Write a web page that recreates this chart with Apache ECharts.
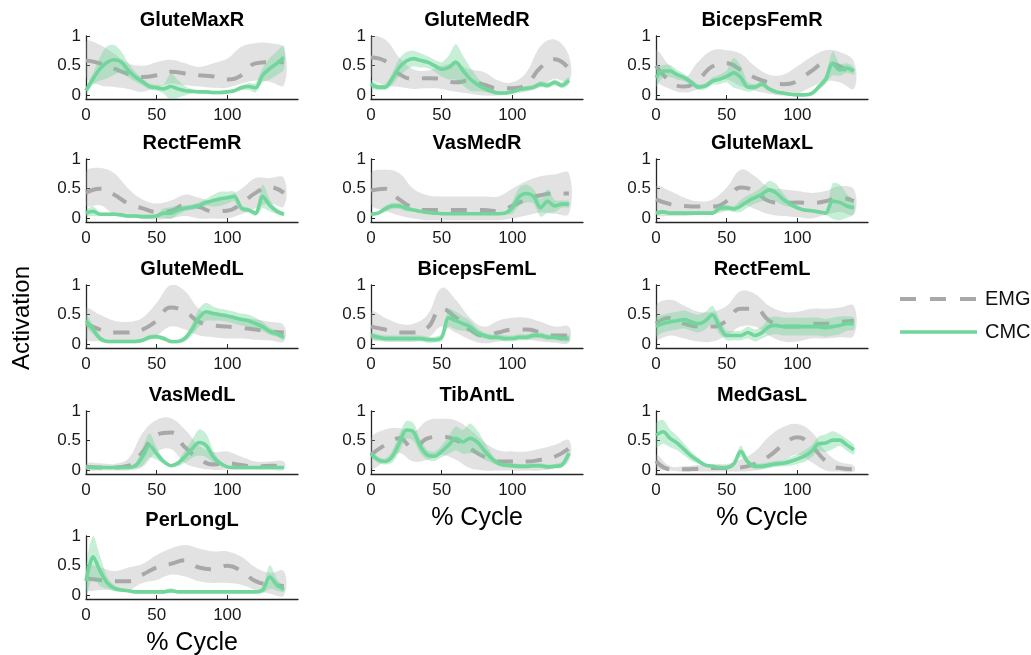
<!DOCTYPE html>
<html>
<head>
<meta charset="utf-8">
<script src="https://cdn.jsdelivr.net/npm/echarts@6/dist/echarts.min.js"></script>
<style>html,body{margin:0;padding:0;background:#fff}#c{width:1031px;height:655px}</style>
</head>
<body>
<div id="c"></div>
<script>
// x positions (% cycle)
const emgX = [0,10,20,30,40,50,60,70,80,90,100,110,120,130,140];
const cmcX = [0,5,10,15,20,25,30,35,40,45,50,55,60,65,70,75,80,85,90,95,100,105,110,115,120,125,130,135,140];
const xTicks = [0,50,100];
const yTicks = [0,0.5,1];
const panelNames = ['GluteMaxR','GluteMedR','BicepsFemR','RectFemR','VasMedR','GluteMaxL','GluteMedL','BicepsFemL','RectFemL','VasMedL','TibAntL','MedGasL','PerLongL'];

// EMG mean / band upper / band lower, CMC mean / CMC band half-width
const gluteMaxR_emg   = [0.59,0.54,0.45,0.36,0.31,0.34,0.40,0.37,0.34,0.32,0.27,0.34,0.54,0.56,0.56];
const gluteMaxR_emgHi = [0.90,0.85,0.70,0.54,0.50,0.56,0.60,0.54,0.48,0.54,0.62,0.82,0.88,0.88,0.80];
const gluteMaxR_emgLo = [0.31,0.17,0.14,0.11,0.06,0.14,0.20,0.17,0.15,0.13,0.13,0.20,0.25,0.23,0.17];
const gluteMaxR_cmc   = [0.08,0.28,0.45,0.56,0.60,0.56,0.42,0.31,0.23,0.15,0.13,0.11,0.15,0.11,0.08,0.07,0.06,0.06,0.05,0.05,0.06,0.08,0.13,0.15,0.13,0.34,0.45,0.54,0.64];
const gluteMaxR_cmcSd = [0.05,0.10,0.20,0.27,0.25,0.18,0.12,0.08,0.06,0.05,0.05,0.08,0.22,0.15,0.08,0.04,0.03,0.03,0.03,0.03,0.03,0.03,0.04,0.06,0.08,0.12,0.18,0.20,0.20];

const gluteMedR_emg   = [0.64,0.58,0.36,0.28,0.29,0.28,0.22,0.25,0.18,0.12,0.12,0.19,0.47,0.61,0.45];
const gluteMedR_emgHi = [0.97,0.94,0.64,0.44,0.42,0.50,0.53,0.44,0.39,0.25,0.22,0.39,0.83,0.94,0.67];
const gluteMedR_emgLo = [0.31,0.17,0.14,0.11,0.12,0.11,0.06,0.03,0.00,0.00,0.03,0.06,0.14,0.28,0.22];
const gluteMedR_cmc   = [0.19,0.14,0.14,0.28,0.47,0.58,0.62,0.59,0.56,0.50,0.44,0.47,0.56,0.42,0.28,0.19,0.12,0.07,0.04,0.04,0.06,0.10,0.12,0.14,0.19,0.17,0.22,0.17,0.25];
const gluteMedR_cmcSd = [0.07,0.05,0.05,0.10,0.15,0.15,0.13,0.12,0.10,0.10,0.12,0.20,0.30,0.25,0.20,0.12,0.06,0.03,0.03,0.03,0.03,0.03,0.04,0.04,0.05,0.05,0.05,0.05,0.06];

const bicepsFemR_emg   = [0.50,0.24,0.15,0.27,0.49,0.54,0.43,0.30,0.22,0.19,0.24,0.41,0.54,0.49,0.30];
const bicepsFemR_emgHi = [0.76,0.49,0.30,0.57,0.76,0.76,0.70,0.49,0.35,0.35,0.49,0.65,0.76,0.73,0.57];
const bicepsFemR_emgLo = [0.27,0.11,0.05,0.11,0.22,0.27,0.16,0.08,0.03,0.00,0.03,0.14,0.24,0.22,0.11];
const bicepsFemR_cmc   = [0.30,0.41,0.41,0.35,0.30,0.22,0.14,0.16,0.24,0.27,0.32,0.38,0.30,0.14,0.14,0.19,0.11,0.06,0.04,0.02,0.01,0.01,0.03,0.14,0.27,0.54,0.43,0.46,0.41];
const bicepsFemR_cmcSd = [0.15,0.10,0.10,0.08,0.06,0.05,0.05,0.05,0.06,0.08,0.10,0.25,0.20,0.08,0.05,0.05,0.04,0.03,0.02,0.02,0.02,0.02,0.03,0.05,0.08,0.20,0.10,0.08,0.06];

const rectFemR_emg   = [0.43,0.50,0.40,0.25,0.17,0.11,0.13,0.22,0.19,0.12,0.13,0.25,0.43,0.53,0.43];
const rectFemR_emgHi = [0.78,0.85,0.76,0.50,0.32,0.25,0.30,0.40,0.35,0.30,0.37,0.50,0.68,0.68,0.68];
const rectFemR_emgLo = [0.22,0.22,0.07,0.03,0.00,-0.02,0.00,0.04,0.00,0.00,0.00,0.07,0.17,0.25,0.20];
const rectFemR_cmc   = [0.09,0.12,0.07,0.07,0.07,0.06,0.04,0.04,0.03,0.03,0.04,0.09,0.09,0.14,0.17,0.19,0.22,0.27,0.30,0.33,0.35,0.37,0.17,0.14,0.09,0.37,0.22,0.12,0.07];
const rectFemR_cmcSd = [0.05,0.08,0.03,0.03,0.03,0.03,0.03,0.03,0.03,0.03,0.03,0.08,0.10,0.08,0.05,0.05,0.05,0.06,0.10,0.12,0.10,0.08,0.05,0.04,0.05,0.20,0.10,0.05,0.03];

const vasMedR_emg   = [0.47,0.50,0.32,0.18,0.14,0.14,0.14,0.14,0.14,0.12,0.21,0.32,0.39,0.42,0.42];
const vasMedR_emgHi = [0.76,0.82,0.76,0.50,0.39,0.37,0.37,0.37,0.37,0.37,0.50,0.63,0.71,0.74,0.76];
const vasMedR_emgLo = [0.24,0.13,0.05,0.00,-0.03,-0.03,-0.03,-0.03,-0.03,-0.03,0.00,0.05,0.10,0.08,0.08];
const vasMedR_cmc   = [0.07,0.09,0.16,0.21,0.21,0.17,0.14,0.12,0.10,0.09,0.08,0.08,0.08,0.08,0.08,0.08,0.08,0.08,0.08,0.09,0.18,0.37,0.42,0.37,0.18,0.29,0.21,0.24,0.24];
const vasMedR_cmcSd = [0.02,0.02,0.05,0.05,0.05,0.05,0.02,0.02,0.02,0.02,0.02,0.02,0.02,0.02,0.02,0.02,0.02,0.02,0.02,0.02,0.10,0.15,0.15,0.12,0.15,0.20,0.10,0.06,0.05];

const gluteMaxL_emg   = [0.32,0.24,0.21,0.20,0.20,0.29,0.52,0.46,0.29,0.26,0.27,0.26,0.29,0.35,0.29];
const gluteMaxL_emgHi = [0.54,0.46,0.35,0.29,0.32,0.52,0.82,0.71,0.52,0.49,0.46,0.43,0.46,0.54,0.49];
const gluteMaxL_emgLo = [0.07,0.04,0.04,0.06,0.07,0.13,0.24,0.16,0.07,0.04,0.02,0.00,0.06,0.11,0.07];
const gluteMaxL_cmc   = [0.09,0.11,0.09,0.09,0.09,0.09,0.09,0.09,0.09,0.17,0.18,0.16,0.21,0.29,0.35,0.41,0.48,0.43,0.32,0.24,0.18,0.14,0.13,0.11,0.09,0.29,0.27,0.21,0.18];
const gluteMaxL_cmcSd = [0.03,0.03,0.03,0.03,0.03,0.03,0.03,0.03,0.03,0.05,0.05,0.05,0.10,0.10,0.10,0.12,0.15,0.15,0.10,0.05,0.03,0.03,0.03,0.03,0.03,0.30,0.30,0.20,0.10];

const gluteMedL_emg   = [0.35,0.25,0.20,0.20,0.25,0.40,0.62,0.55,0.38,0.32,0.30,0.28,0.25,0.22,0.20];
const gluteMedL_emgHi = [0.60,0.50,0.40,0.38,0.45,0.70,1.00,0.90,0.60,0.50,0.48,0.45,0.42,0.38,0.32];
const gluteMedL_emgLo = [0.10,0.05,0.03,0.03,0.05,0.15,0.30,0.25,0.15,0.12,0.10,0.10,0.08,0.07,0.05];
const gluteMedL_cmc   = [0.40,0.25,0.10,0.05,0.05,0.05,0.05,0.05,0.07,0.12,0.13,0.10,0.05,0.05,0.10,0.25,0.45,0.55,0.52,0.50,0.48,0.45,0.42,0.40,0.35,0.30,0.22,0.18,0.12];
const gluteMedL_cmcSd = [0.10,0.08,0.05,0.03,0.03,0.03,0.03,0.03,0.03,0.04,0.04,0.04,0.03,0.03,0.05,0.10,0.15,0.15,0.12,0.10,0.10,0.10,0.10,0.10,0.10,0.08,0.06,0.05,0.04];

const bicepsFemL_emg   = [0.30,0.25,0.20,0.20,0.28,0.60,0.45,0.25,0.15,0.20,0.25,0.25,0.20,0.15,0.15];
const bicepsFemL_emgHi = [0.55,0.45,0.35,0.35,0.50,0.95,0.75,0.45,0.30,0.40,0.45,0.45,0.38,0.30,0.30];
const bicepsFemL_emgLo = [0.10,0.05,0.05,0.05,0.10,0.30,0.20,0.08,0.02,0.05,0.08,0.08,0.05,0.03,0.03];
const bicepsFemL_cmc   = [0.15,0.12,0.10,0.10,0.10,0.10,0.10,0.10,0.08,0.08,0.12,0.45,0.40,0.35,0.30,0.20,0.15,0.12,0.12,0.10,0.10,0.12,0.12,0.15,0.15,0.12,0.12,0.10,0.10];
const bicepsFemL_cmcSd = [0.05,0.05,0.05,0.05,0.05,0.05,0.05,0.05,0.05,0.05,0.06,0.15,0.15,0.12,0.10,0.08,0.05,0.05,0.05,0.05,0.05,0.05,0.05,0.05,0.05,0.05,0.05,0.05,0.05];

const rectFemL_emg   = [0.35,0.45,0.35,0.30,0.30,0.40,0.60,0.60,0.40,0.30,0.30,0.35,0.35,0.38,0.40];
const rectFemL_emgHi = [0.65,0.75,0.65,0.55,0.55,0.65,0.90,0.85,0.65,0.55,0.55,0.60,0.60,0.62,0.65];
const rectFemL_emgLo = [0.10,0.15,0.10,0.05,0.05,0.15,0.30,0.30,0.15,0.05,0.05,0.10,0.10,0.12,0.15];
const rectFemL_cmc   = [0.30,0.35,0.38,0.40,0.42,0.38,0.35,0.40,0.50,0.30,0.15,0.15,0.15,0.20,0.15,0.20,0.30,0.32,0.30,0.30,0.30,0.30,0.30,0.30,0.28,0.30,0.32,0.35,0.35];
const rectFemL_cmcSd = [0.15,0.15,0.15,0.15,0.15,0.15,0.15,0.15,0.15,0.12,0.08,0.08,0.08,0.10,0.10,0.10,0.15,0.15,0.15,0.15,0.15,0.15,0.15,0.15,0.15,0.15,0.15,0.12,0.10];

const vasMedL_emg   = [0.06,0.05,0.05,0.08,0.31,0.60,0.64,0.39,0.20,0.10,0.12,0.09,0.06,0.08,0.08];
const vasMedL_emgHi = [0.12,0.12,0.11,0.20,0.63,0.85,0.88,0.69,0.42,0.31,0.32,0.23,0.15,0.15,0.15];
const vasMedL_emgLo = [0.01,0.00,0.00,0.00,0.06,0.31,0.36,0.12,0.04,0.01,0.01,0.01,0.01,0.01,0.01];
const vasMedL_cmc   = [0.05,0.05,0.05,0.05,0.05,0.05,0.05,0.08,0.23,0.42,0.28,0.15,0.08,0.12,0.23,0.36,0.47,0.42,0.23,0.12,0.06,0.05,0.05,0.05,0.05,0.05,0.05,0.05,0.05];
const vasMedL_cmcSd = [0.02,0.02,0.02,0.02,0.02,0.02,0.02,0.05,0.15,0.20,0.10,0.04,0.02,0.05,0.10,0.15,0.22,0.20,0.10,0.04,0.02,0.02,0.02,0.02,0.02,0.02,0.02,0.02,0.02];

const tibAntL_emg   = [0.26,0.43,0.54,0.37,0.54,0.57,0.51,0.37,0.23,0.15,0.15,0.15,0.18,0.23,0.37];
const tibAntL_emgHi = [0.54,0.69,0.71,0.65,0.84,0.87,0.84,0.69,0.48,0.34,0.32,0.32,0.37,0.43,0.51];
const tibAntL_emgLo = [0.04,0.15,0.29,0.15,0.18,0.26,0.18,0.04,0.00,0.00,0.00,0.00,0.00,0.04,0.15];
const tibAntL_cmc   = [0.28,0.18,0.15,0.23,0.46,0.68,0.65,0.40,0.26,0.24,0.32,0.43,0.54,0.48,0.54,0.48,0.34,0.21,0.12,0.09,0.08,0.07,0.07,0.08,0.08,0.06,0.07,0.09,0.29];
const tibAntL_cmcSd = [0.05,0.05,0.05,0.10,0.15,0.15,0.15,0.12,0.08,0.08,0.10,0.15,0.20,0.20,0.25,0.20,0.15,0.08,0.04,0.04,0.04,0.04,0.04,0.04,0.04,0.04,0.04,0.05,0.06];

const medGasL_emg   = [0.16,0.02,0.02,0.03,0.04,0.04,0.05,0.11,0.24,0.43,0.56,0.41,0.16,0.04,0.02];
const medGasL_emgHi = [0.27,0.07,0.07,0.09,0.11,0.11,0.19,0.32,0.57,0.73,0.78,0.65,0.32,0.14,0.08];
const medGasL_emgLo = [0.05,0.00,-0.02,-0.02,-0.02,-0.02,-0.02,0.00,0.05,0.16,0.27,0.14,0.00,-0.02,-0.02];
const medGasL_cmc   = [0.59,0.65,0.54,0.46,0.35,0.24,0.16,0.09,0.07,0.05,0.05,0.11,0.32,0.14,0.07,0.07,0.09,0.11,0.12,0.15,0.19,0.24,0.32,0.45,0.46,0.51,0.51,0.43,0.35];
const medGasL_cmcSd = [0.20,0.20,0.15,0.12,0.10,0.08,0.05,0.03,0.03,0.03,0.03,0.05,0.10,0.05,0.05,0.05,0.05,0.05,0.05,0.07,0.08,0.10,0.10,0.12,0.15,0.15,0.10,0.10,0.08];

const perLongL_emg   = [0.29,0.26,0.24,0.24,0.35,0.47,0.53,0.59,0.47,0.44,0.50,0.41,0.24,0.18,0.16];
const perLongL_emgHi = [0.50,0.47,0.41,0.47,0.53,0.68,0.79,0.85,0.79,0.74,0.74,0.65,0.47,0.38,0.41];
const perLongL_emgLo = [0.10,0.09,0.10,0.09,0.21,0.26,0.35,0.32,0.24,0.21,0.21,0.18,0.09,0.03,0.00];
const perLongL_cmc   = [0.24,0.65,0.41,0.21,0.12,0.09,0.08,0.06,0.06,0.06,0.06,0.06,0.08,0.06,0.06,0.06,0.06,0.06,0.06,0.06,0.06,0.06,0.06,0.06,0.06,0.09,0.31,0.18,0.10];
const perLongL_cmcSd = [0.25,0.35,0.25,0.10,0.05,0.03,0.03,0.03,0.03,0.03,0.03,0.03,0.04,0.02,0.02,0.02,0.02,0.02,0.02,0.02,0.02,0.02,0.02,0.02,0.02,0.05,0.20,0.10,0.04];

const panels = [
  [gluteMaxR_emg, gluteMaxR_emgHi, gluteMaxR_emgLo, gluteMaxR_cmc, gluteMaxR_cmcSd],
  [gluteMedR_emg, gluteMedR_emgHi, gluteMedR_emgLo, gluteMedR_cmc, gluteMedR_cmcSd],
  [bicepsFemR_emg, bicepsFemR_emgHi, bicepsFemR_emgLo, bicepsFemR_cmc, bicepsFemR_cmcSd],
  [rectFemR_emg, rectFemR_emgHi, rectFemR_emgLo, rectFemR_cmc, rectFemR_cmcSd],
  [vasMedR_emg, vasMedR_emgHi, vasMedR_emgLo, vasMedR_cmc, vasMedR_cmcSd],
  [gluteMaxL_emg, gluteMaxL_emgHi, gluteMaxL_emgLo, gluteMaxL_cmc, gluteMaxL_cmcSd],
  [gluteMedL_emg, gluteMedL_emgHi, gluteMedL_emgLo, gluteMedL_cmc, gluteMedL_cmcSd],
  [bicepsFemL_emg, bicepsFemL_emgHi, bicepsFemL_emgLo, bicepsFemL_cmc, bicepsFemL_cmcSd],
  [rectFemL_emg, rectFemL_emgHi, rectFemL_emgLo, rectFemL_cmc, rectFemL_cmcSd],
  [vasMedL_emg, vasMedL_emgHi, vasMedL_emgLo, vasMedL_cmc, vasMedL_cmcSd],
  [tibAntL_emg, tibAntL_emgHi, tibAntL_emgLo, tibAntL_cmc, tibAntL_cmcSd],
  [medGasL_emg, medGasL_emgHi, medGasL_emgLo, medGasL_cmc, medGasL_cmcSd],
  [perLongL_emg, perLongL_emgHi, perLongL_emgLo, perLongL_cmc, perLongL_cmcSd]
];

const colLeft = [86, 371, 656];
const rowTop = [36, 159, 285, 411, 536];
const GW = 212, GH = 63;
const FONT = '"Liberation Sans", Arial, Helvetica, sans-serif';
const AX = '#262626';
const EMG_COLOR = '#a8a8a8';
const CMC_COLOR = '#70d69b';
const EMG_BAND = 'rgba(165,165,165,0.32)';
const CMC_BAND = 'rgba(108,212,150,0.38)';
const EMG_DASH = [16, 13];

const pairs = (xs, ys) => xs.map((x, i) => [x, ys[i]]);

// shaded band drawn as one polygon through the axis scales
function bandSeries(i, xs, lo, hi, color, z, smooth) {
  return {
    type: 'custom', xAxisIndex: i, yAxisIndex: i, silent: true, z: z, clip: true, animation: false,
    data: xs.map((x, j) => [x, lo[j], hi[j]]),
    encode: {x: 0, y: [1, 2]},
    renderItem: function (params, api) {
      if (params.dataIndex !== 0) return null;
      const upper = xs.map((x, j) => api.coord([x, hi[j]]));
      const lower = xs.map((x, j) => api.coord([x, lo[j]])).reverse();
      const cs = params.coordSys;
      return {
        type: 'group',
        clipPath: {type: 'rect', shape: {x: cs.x, y: cs.y, width: cs.width, height: cs.height}},
        children: [{type: 'polygon', shape: {points: upper.concat(lower), smooth: smooth}, style: {fill: color, stroke: null}}]
      };
    }
  };
}

const grids = [], xAxes = [], yAxes = [], series = [], graphics = [];
panels.forEach((p, i) => {
  const [emg, hi, lo, cmc, sd] = p;
  const row = Math.floor(i / 3), col = i % 3;
  const left = colLeft[col], top = rowTop[row];
  grids.push({left: left, top: top, width: GW, height: GH, containLabel: false});
  xAxes.push({
    type: 'value', gridIndex: i, min: 0, max: 150,
    axisLine: {show: true, onZero: false, lineStyle: {color: AX, width: 1.3}},
    axisTick: {show: true, inside: true, length: 4, customValues: xTicks, lineStyle: {color: AX}},
    axisLabel: {customValues: xTicks, fontSize: 17, color: '#1a1a1a', fontFamily: FONT, margin: 8},
    splitLine: {show: false}
  });
  yAxes.push({
    type: 'value', gridIndex: i, min: -0.06, max: 1,
    axisLine: {show: true, onZero: false, lineStyle: {color: AX, width: 1.3}},
    axisTick: {show: true, inside: true, length: 4, customValues: yTicks, lineStyle: {color: AX}},
    axisLabel: {customValues: yTicks, fontSize: 17, color: '#1a1a1a', fontFamily: FONT, margin: 5},
    splitLine: {show: false}
  });
  const common = {xAxisIndex: i, yAxisIndex: i, symbol: 'none', silent: true, animation: false, emphasis: {disabled: true}, clip: true};
  series.push(bandSeries(i, emgX, lo, hi, EMG_BAND, 1, 0.4));
  series.push(Object.assign({type: 'line', name: 'EMG', smooth: 0.5, z: 3,
    data: pairs(emgX, emg), lineStyle: {color: EMG_COLOR, width: 4, type: EMG_DASH}, itemStyle: {color: EMG_COLOR}}, common));
  series.push(bandSeries(i, cmcX, cmc.map((v, j) => v - sd[j]), cmc.map((v, j) => v + sd[j]), CMC_BAND, 4, 0.3));
  series.push(Object.assign({type: 'line', name: 'CMC', smooth: 0.3, z: 5,
    data: pairs(cmcX, cmc), lineStyle: {color: CMC_COLOR, width: 3.6}, itemStyle: {color: CMC_COLOR}}, common));

  graphics.push({type: 'text', x: left + GW / 2, y: top - 16,
    style: {text: panelNames[i], font: 'bold 20px ' + FONT, fill: '#000', align: 'center', verticalAlign: 'middle'}});
});

// "% Cycle" under the bottom panel of each column
[[0, 4], [1, 3], [2, 3]].forEach(([c, r]) => {
  graphics.push({type: 'text', x: colLeft[c] + GW / 2, y: rowTop[r] + GH + 44,
    style: {text: '% Cycle', font: '25px ' + FONT, fill: '#000', align: 'center', verticalAlign: 'middle'}});
});
graphics.push({type: 'text', x: 22, y: 318, rotation: Math.PI / 2,
  style: {text: 'Activation', font: '24px ' + FONT, fill: '#000', align: 'center', verticalAlign: 'middle'}});

// legend
graphics.push({type: 'line', shape: {x1: 900, y1: 299, x2: 977, y2: 299},
  style: {stroke: EMG_COLOR, lineWidth: 4, lineDash: [16, 14]}});
graphics.push({type: 'text', x: 985, y: 299, style: {text: 'EMG', font: '20px ' + FONT, fill: '#111', align: 'left', verticalAlign: 'middle'}});
graphics.push({type: 'line', shape: {x1: 900, y1: 332, x2: 977, y2: 332},
  style: {stroke: CMC_COLOR, lineWidth: 3.6}});
graphics.push({type: 'text', x: 985, y: 332, style: {text: 'CMC', font: '20px ' + FONT, fill: '#111', align: 'left', verticalAlign: 'middle'}});

const chart = echarts.init(document.getElementById('c'), null, {renderer: 'canvas'});
chart.setOption({
  animation: false,
  backgroundColor: '#fff',
  grid: grids,
  xAxis: xAxes,
  yAxis: yAxes,
  series: series,
  graphic: graphics
});
</script>
</body>
</html>
